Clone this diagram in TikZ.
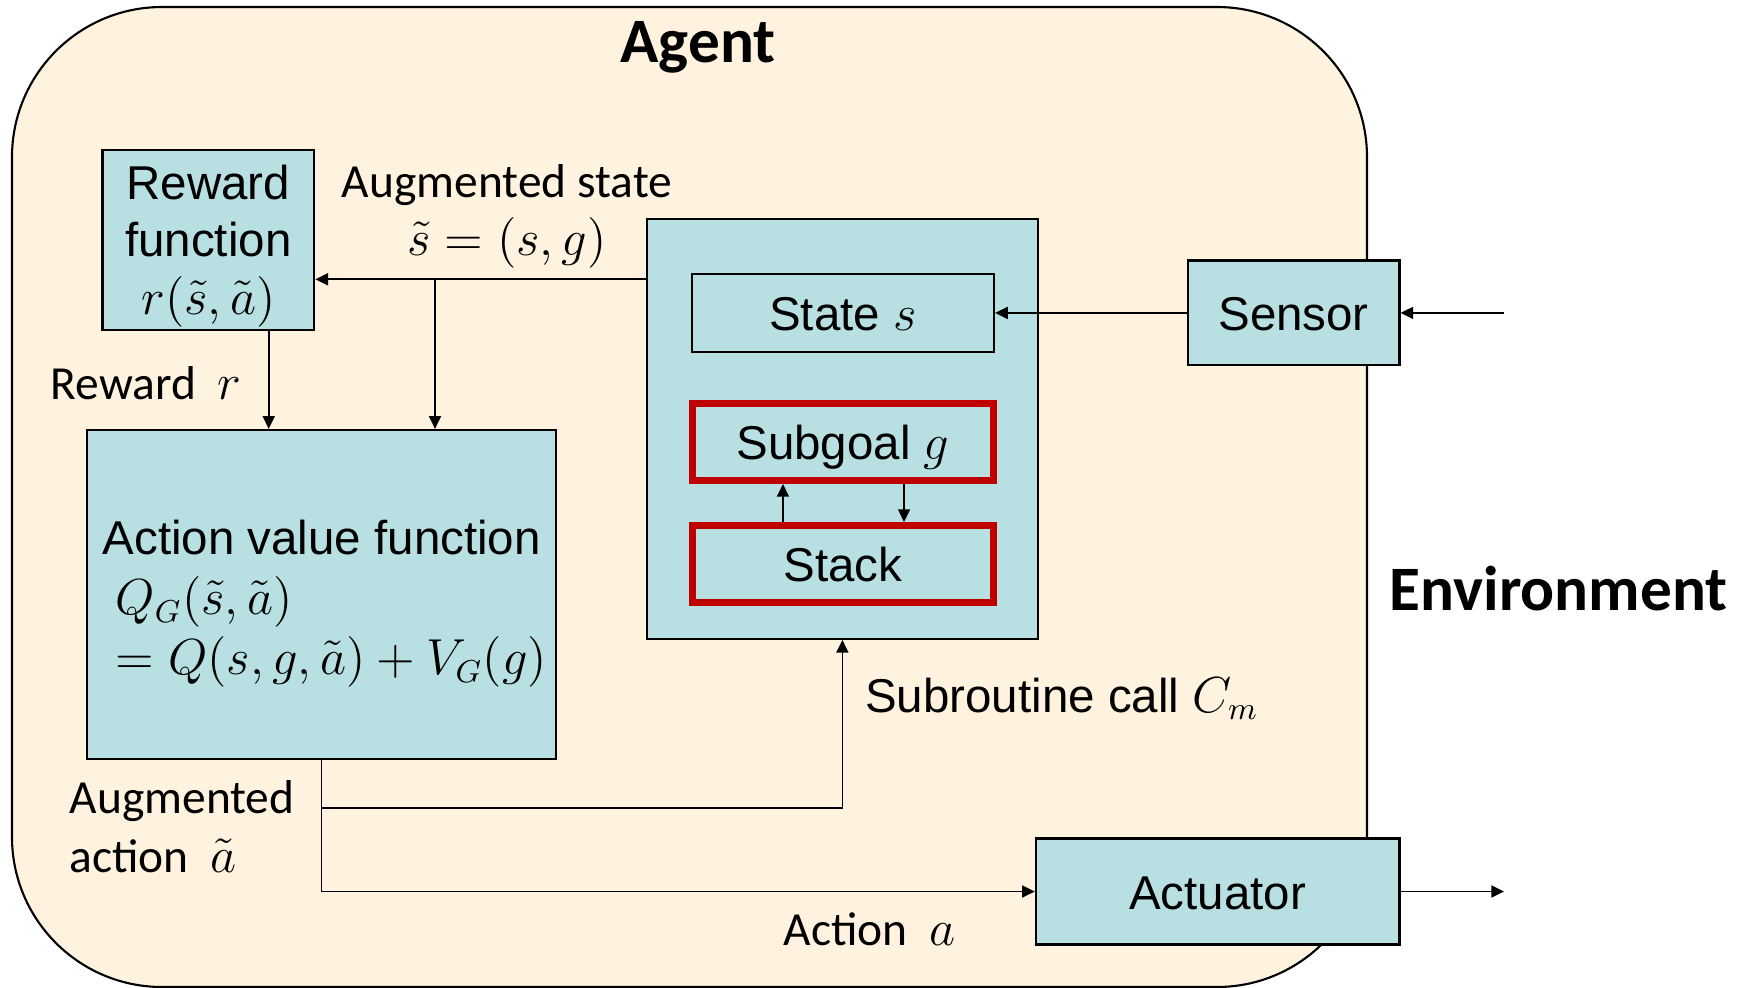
\documentclass[tikz,border=0pt]{standalone}
\usepackage{fontspec}
\setmainfont{Liberation Sans}
\newfontfamily\calibri{Carlito}
\usetikzlibrary{arrows.meta}

\definecolor{agentbg}{RGB}{255,243,224}
\definecolor{boxfill}{RGB}{184,223,226}
\definecolor{stackred}{RGB}{192,0,0}

\tikzset{
  blk/.style={draw, line width=0.6pt, fill=boxfill, inner sep=0pt, align=center,
    text height=0.35cm, text depth=0pt, font=\fontsize{13.5}{16.4}\selectfont},
  redblk/.style={blk, draw=stackred, line width=2pt},
  lbl/.style={inner sep=0pt, font=\calibri\fontsize{13.5}{16.4}\selectfont},
  txt/.style={inner sep=0pt, font=\fontsize{13.5}{16.4}\selectfont},
  ttl/.style={inner sep=0pt, font=\calibri\bfseries\fontsize{18}{22}\selectfont},
  arr/.style={line width=0.5pt, -{Triangle[length=3.6pt,width=3.4pt]}},
}

\begin{document}
\begin{tikzpicture}[x=0.01cm,y=-0.01cm]
  \useasboundingbox (0,0) rectangle (1747,987);
  % agent frame
  \draw[line width=0.6pt, fill=agentbg, rounded corners=1.5cm] (12,7) rectangle (1367,987);
  \node[ttl, anchor=base] (agent) at (698,62) {Agent};
  \node[ttl, anchor=base west] (env) at (1389,610) {Environment};

  % blocks
  \node[blk, minimum width=2.117cm, minimum height=1.794cm] (rwd) at (208.4,240.1) {};
  \node[txt, align=center] (rwdtxt) at (208.4,246) {Reward\\function\\$r(\tilde{s},\tilde{a})$};
  \node[blk, minimum width=4.691cm, minimum height=3.288cm] (avf) at (321.5,594.4) {};
  \node[txt, anchor=base west] (avf1) at (102,554.6) {Action value function};
  \node[txt, anchor=base west] (avf2) at (115,614.7) {$Q_G(\tilde{s},\tilde{a})$};
  \node[txt, anchor=base west] (avf3) at (115,674.7) {$=Q(s,g,\tilde{a})+V_G(g)$};

  \node[blk, minimum width=3.908cm, minimum height=4.197cm] (mem) at (842.4,428.9) {};
  \node[blk, minimum width=3.021cm, minimum height=0.777cm] (st) at (842.9,312.9) {State $s$};
  \node[redblk, minimum width=3.01cm, minimum height=0.77cm] (sg) at (843,442) {Subgoal $g$};
  \node[redblk, minimum width=3.01cm, minimum height=0.77cm] (stk) at (843,564) {Stack};

  \node[blk, minimum width=2.116cm, minimum height=1.048cm] (sen) at (1293.6,312.9) {Sensor};
  \node[blk, minimum width=3.634cm, minimum height=1.06cm] (act) at (1217.7,891.5) {Actuator};

  % labels
  \node[lbl, anchor=base] (aug1) at (507,197) {Augmented state};
  \node[lbl, anchor=base] (aug2) at (507,255) {$\tilde{s}=(s,g)$};
  \node[lbl, anchor=base west] (rlbl) at (50,399) {Reward~~$r$};
  \node[lbl, anchor=base west] (alb1) at (69,813.6) {Augmented};
  \node[lbl, anchor=base west] (alb2) at (69,872) {action~~$\tilde{a}$};
  \node[txt, anchor=base west] (call) at (864.6,712) {Subroutine call $C_m$};
  \node[lbl, anchor=base west] (alb) at (783,945.7) {Action~~$a$};

  % connectors
  \coordinate (split) at (435,279.3);
  \coordinate (envin) at (1504,312.9);
  \coordinate (envout) at (1504,891.5);
  \draw[arr] (split -| mem.west) -- (split -| rwd.east);
  \draw[arr] (split) -- (split |- avf.north);
  \draw[arr] ([xshift=0.603cm]rwd.south) -- ([xshift=0.603cm]rwd.south |- avf.north);
  \draw[arr] (sen.west) -- (st.east);
  \draw[arr] (envin) -- (sen.east);
  \draw[arr] (act.east) -- (envout);
  \draw[arr] (avf.south) |- (act.west);
  \draw[arr] (avf.south) ++(0,48) -| (mem.south);
  \draw[arr] ([xshift=-0.6cm]stk.north) -- ([xshift=-0.6cm]sg.south);
  \draw[arr] ([xshift=0.61cm]sg.south) -- ([xshift=0.61cm]stk.north);
\end{tikzpicture}
\end{document}
